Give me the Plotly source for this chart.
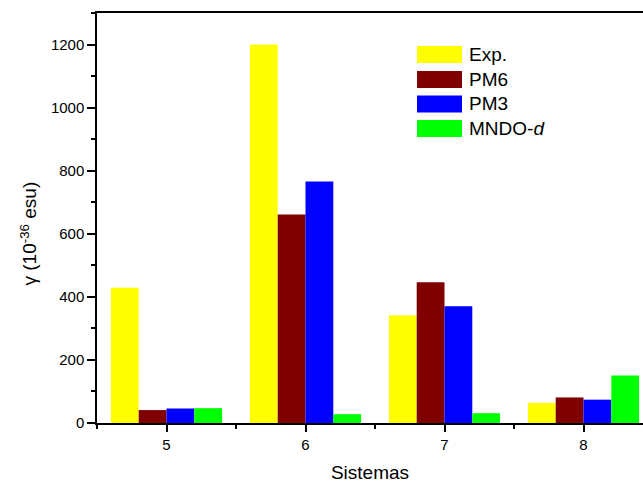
import plotly.graph_objects as go

sistemas = [5, 6, 7, 8]
series_names = ["Exp.", "PM6", "PM3", "MNDO-<i>d</i>"]
exp_vals = [429, 1200, 342, 64]
pm6_vals = [41, 661, 446, 81]
pm3_vals = [46, 766, 370, 74]
mndo_vals = [47, 28, 31, 151]
colors = ["#FFFF00", "#800000", "#0000FF", "#00FF00"]

all_vals = [exp_vals, pm6_vals, pm3_vals, mndo_vals]

W, H = 643, 485
L, T, B, R = 97, 13, 62, 0
pw, ph = W - L - R, H - T - B

fig = go.Figure()
for name, vals, col in zip(series_names, all_vals, colors):
    fig.add_trace(go.Bar(x=sistemas, y=vals, name=name, marker_color=col,
                         marker_line_width=0, showlegend=False))

font = "Liberation Sans, Arial, sans-serif"

# manual legend with wide swatches
def px2paper_x(px):
    return (px - L) / pw

def px2paper_y(py):
    return (H - B - py) / ph

row_centers = [54.5, 79.5, 104, 128.5]
for name, col, cy in zip(series_names, colors, row_centers):
    fig.add_shape(type="rect", xref="paper", yref="paper",
                  x0=px2paper_x(417), x1=px2paper_x(462),
                  y0=px2paper_y(cy + 8.5), y1=px2paper_y(cy - 8.5),
                  fillcolor=col, line_width=0)
    fig.add_annotation(xref="paper", yref="paper", x=px2paper_x(467), y=px2paper_y(cy),
                       text=name, showarrow=False, xanchor="left", yanchor="middle",
                       font=dict(family=font, size=19, color="black"))

fig.add_annotation(xref="paper", yref="paper", x=px2paper_x(28.5), y=px2paper_y(234),
                   text="γ (10<sup>-36</sup> esu)", textangle=-90, showarrow=False,
                   xanchor="center", yanchor="middle",
                   font=dict(family=font, size=19, color="black"))

fig.update_layout(
    width=W, height=H,
    margin=dict(l=L, r=R, t=T, b=B, pad=0),
    paper_bgcolor="white", plot_bgcolor="white",
    barmode="group", bargap=0.2, bargroupgap=0,
    font=dict(family=font, size=15, color="black"),
    xaxis=dict(range=[4.5, 4.5 + pw / 139.0], tickmode="linear", tick0=5, dtick=1,
               showline=True, linecolor="black", linewidth=1.5, mirror=True,
               ticks="outside", ticklen=7, tickwidth=1.5, tickcolor="black",
               minor=dict(tickmode="linear", tick0=4.5, dtick=0.5, ticks="outside",
                          ticklen=4, tickwidth=1.5, tickcolor="black"),
               showgrid=False, zeroline=False,
               tickfont=dict(size=15),
               title=dict(text="Sistemas", font=dict(size=19), standoff=14)),
    yaxis=dict(range=[0, 1300], tickmode="linear", tick0=0, dtick=200,
               showline=True, linecolor="black", linewidth=1.5, mirror=False,
               ticks="outside", ticklen=8, tickwidth=1.5, tickcolor="black",
               minor=dict(tickmode="linear", tick0=0, dtick=100, ticks="outside",
                          ticklen=4, tickwidth=1.5, tickcolor="black"),
               showgrid=False, zeroline=False,
               tickfont=dict(size=15)),
)

fig.write_html("out.html")
